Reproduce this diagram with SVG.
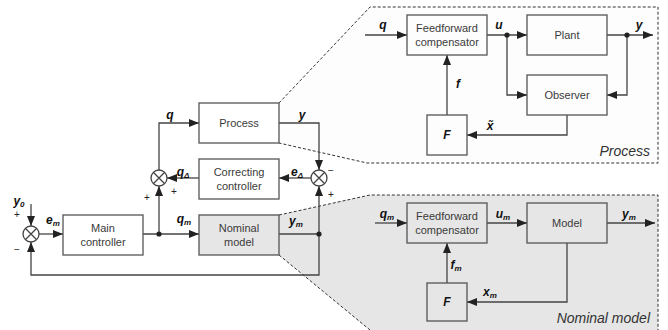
<svg xmlns="http://www.w3.org/2000/svg" width="668" height="330" viewBox="0 0 668 330">
<defs>
<marker id="arr" markerUnits="userSpaceOnUse" markerWidth="10" markerHeight="8" refX="10" refY="4" orient="auto">
<path d="M0,0 L10,4 L0,8 z" fill="#222"/>
</marker>
<style>
.box{fill:#fff;stroke:#555;stroke-width:1.3}
.gbox{fill:#e6e6e6;stroke:#555;stroke-width:1.3}
.pbox{fill:none;stroke:#555;stroke-width:1.3}
.ln{fill:none;stroke:#444;stroke-width:1.3}
.ar{fill:none;stroke:#444;stroke-width:1.3;marker-end:url(#arr)}
.dash{fill:none;stroke:#333;stroke-width:1;stroke-dasharray:3 2}
.t{font-family:"Liberation Sans",Arial,sans-serif;font-size:11px;fill:#3a3a3a;text-anchor:middle}
.m{font-family:"Liberation Sans",Arial,sans-serif;font-size:12px;font-weight:bold;font-style:italic;fill:#111;text-anchor:middle}
.s{font-size:8px}
.sg{font-family:"Liberation Sans",Arial,sans-serif;font-size:10px;fill:#222;text-anchor:middle}
.it{font-family:"Liberation Sans",Arial,sans-serif;font-size:14px;font-style:italic;fill:#333;text-anchor:end}
.dot{fill:#222}
.sum{fill:#fff;stroke:#444;stroke-width:1.3}
</style>
</defs>

<g id="panels">
<polygon points="279,103 370,7 658,7 658,163 367,163 279,143" fill="#fdfdfd"/>
<polyline class="dash" points="279,103 370,7 658,7 658,163 367,163 279,143"/>
<polygon points="279,215 370,195 658,195 658,330 370,330 279,255" fill="#e6e6e6"/>
<polyline class="dash" points="279,215 370,195 658,195 658,330"/>
<line class="dash" x1="279" y1="255" x2="370" y2="330"/>
<text class="it" x="650" y="156">Process</text>
<text class="it" x="650" y="323">Nominal model</text>
</g>

<g id="connectors">
<line class="ar" x1="31" y1="204" x2="31" y2="226"/>
<line class="ar" x1="39" y1="234" x2="63" y2="234"/>
<line class="ar" x1="143" y1="234" x2="199" y2="234"/>
<line class="ar" x1="159" y1="234" x2="159" y2="186"/>
<polyline class="ar" points="159,170 159,123 199,123"/>
<polyline class="ar" points="279,123 319,123 319,170"/>
<line class="ar" x1="311" y1="178" x2="279" y2="178"/>
<line class="ar" x1="199" y1="178" x2="167" y2="178"/>
<line class="ln" x1="279" y1="234" x2="319" y2="234"/>
<line class="ar" x1="319" y1="234" x2="319" y2="186"/>
<polyline class="ar" points="319,234 319,275 31,275 31,242"/>
<circle class="dot" cx="159" cy="234" r="2.6"/>
<circle class="dot" cx="319" cy="234" r="2.6"/>
<line class="ar" x1="365" y1="35" x2="407" y2="35"/>
<line class="ar" x1="487" y1="35" x2="527" y2="35"/>
<line class="ar" x1="607" y1="35" x2="653" y2="35"/>
<polyline class="ar" points="507,35 507,95 527,95"/>
<polyline class="ar" points="627,35 627,95 607,95"/>
<polyline class="ar" points="567,115 567,135 467,135"/>
<line class="ar" x1="447" y1="115" x2="447" y2="55"/>
<circle class="dot" cx="507" cy="35" r="2.6"/>
<circle class="dot" cx="627" cy="35" r="2.6"/>
<line class="ar" x1="375" y1="223" x2="407" y2="223"/>
<line class="ar" x1="487" y1="223" x2="527" y2="223"/>
<line class="ar" x1="607" y1="223" x2="655" y2="223"/>
<line class="ar" x1="447" y1="283" x2="447" y2="243"/>
<polyline class="ar" points="567,243 567,302 467,302"/>
</g>

<g id="sum1">
<circle class="sum" cx="31" cy="234" r="8"/>
<path class="ln" d="M25.3,228.3 L36.7,239.7 M36.7,228.3 L25.3,239.7"/>
<text class="sg" x="17" y="218">+</text>
<text class="sg" x="17" y="253">−</text>
</g>
<g id="sum2">
<circle class="sum" cx="159" cy="178" r="8"/>
<path class="ln" d="M153.3,172.3 L164.7,183.7 M164.7,172.3 L153.3,183.7"/>
<text class="sg" x="147" y="201">+</text>
<text class="sg" x="174" y="195">+</text>
</g>
<g id="sum3">
<circle class="sum" cx="319" cy="178" r="8"/>
<path class="ln" d="M313.3,172.3 L324.7,183.7 M324.7,172.3 L313.3,183.7"/>
<text class="sg" x="331" y="174">−</text>
<text class="sg" x="331" y="198">+</text>
</g>

<g id="main-controller">
<rect class="box" x="63" y="215" width="80" height="40"/>
<text class="t" x="103" y="232">Main</text>
<text class="t" x="103" y="246">controller</text>
</g>
<g id="process">
<rect class="box" x="199" y="103" width="80" height="40"/>
<text class="t" x="239" y="127">Process</text>
</g>
<g id="correcting-controller">
<rect class="box" x="199" y="159" width="80" height="40"/>
<text class="t" x="239" y="176">Correcting</text>
<text class="t" x="239" y="190">controller</text>
</g>
<g id="nominal-model">
<rect class="gbox" x="199" y="215" width="80" height="40"/>
<text class="t" x="239" y="232">Nominal</text>
<text class="t" x="239" y="246">model</text>
</g>

<g id="p-feedforward">
<rect class="pbox" x="407" y="15" width="80" height="40"/>
<text class="t" x="447" y="32">Feedforward</text>
<text class="t" x="447" y="46">compensator</text>
</g>
<g id="p-plant">
<rect class="pbox" x="527" y="15" width="80" height="40"/>
<text class="t" x="567" y="39">Plant</text>
</g>
<g id="p-observer">
<rect class="pbox" x="527" y="75" width="80" height="40"/>
<text class="t" x="567" y="99">Observer</text>
</g>
<g id="p-F">
<rect class="pbox" x="427" y="115" width="40" height="40"/>
<text class="m" x="447" y="139">F</text>
</g>

<g id="n-feedforward">
<rect class="pbox" x="407" y="203" width="80" height="40"/>
<text class="t" x="447" y="220">Feedforward</text>
<text class="t" x="447" y="234">compensator</text>
</g>
<g id="n-model">
<rect class="pbox" x="527" y="203" width="80" height="40"/>
<text class="t" x="567" y="227">Model</text>
</g>
<g id="n-F">
<rect class="pbox" x="427" y="283" width="40" height="38"/>
<text class="m" x="447" y="306">F</text>
</g>

<g id="labels">
<text class="m" x="19" y="205">y<tspan class="s" dy="2">0</tspan></text>
<text class="m" x="53" y="224">e<tspan class="s" dy="2">m</tspan></text>
<text class="m" x="184" y="223">q<tspan class="s" dy="2">m</tspan></text>
<text class="m" x="296" y="225">y<tspan class="s" dy="2">m</tspan></text>
<text class="m" x="170" y="119">q</text>
<text class="m" x="302" y="119">y</text>
<text class="m" x="183" y="176">q<tspan class="s" dy="2">Δ</tspan></text>
<text class="m" x="297" y="176">e<tspan class="s" dy="2">Δ</tspan></text>
<text class="m" x="383" y="29">q</text>
<text class="m" x="499" y="29">u</text>
<text class="m" x="639" y="29">y</text>
<text class="m" x="458" y="88">f</text>
<text class="m" x="490" y="130">x̃</text>
<text class="m" x="387" y="218">q<tspan class="s" dy="2">m</tspan></text>
<text class="m" x="503" y="218">u<tspan class="s" dy="2">m</tspan></text>
<text class="m" x="629" y="218">y<tspan class="s" dy="2">m</tspan></text>
<text class="m" x="456" y="269">f<tspan class="s" dy="2">m</tspan></text>
<text class="m" x="490" y="296">x<tspan class="s" dy="2">m</tspan></text>
</g>
</svg>
